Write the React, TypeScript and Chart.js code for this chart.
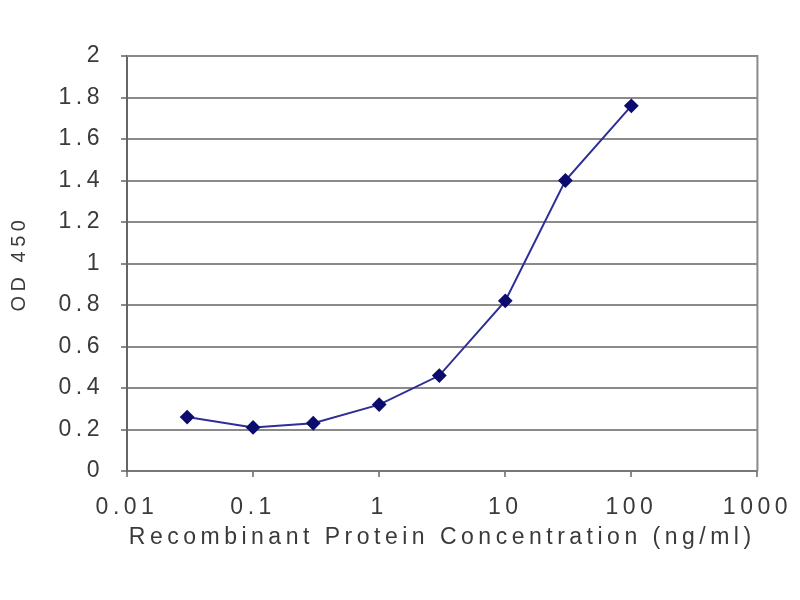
import React, { useEffect, useRef } from "react";
import { Chart, registerables } from "chart.js";

Chart.register(...registerables);

const concentrations = [0.03, 0.1, 0.3, 1, 3, 10, 30, 100];
const od450 = [0.26, 0.21, 0.23, 0.32, 0.46, 0.82, 1.4, 1.76];
const xTickValues = [0.01, 0.1, 1, 10, 100, 1000];
const xTickLabels = ["0.01", "0.1", "1", "10", "100", "1000"];
const yTickValues = [0, 0.2, 0.4, 0.6, 0.8, 1, 1.2, 1.4, 1.6, 1.8, 2];
const yTickLabels = ["0", "0.2", "0.4", "0.6", "0.8", "1", "1.2", "1.4", "1.6", "1.8", "2"];
const xTitle = "Recombinant Protein Concentration (ng/ml)";
const yTitle = "OD 450";

const spacingPlugin = {
  id: "spacing",
  beforeDraw(chart: any) {
    chart.ctx.letterSpacing = "4.5px";
  },
};

const framePlugin = {
  id: "frame",
  beforeDatasetsDraw(chart: any) {
    const { ctx, chartArea } = chart;
    ctx.save();
    ctx.strokeStyle = "#8a8a8a";
    ctx.lineWidth = 2;
    ctx.beginPath();
    ctx.moveTo(chartArea.left, chartArea.top);
    ctx.lineTo(chartArea.right, chartArea.top);
    ctx.lineTo(chartArea.right, chartArea.bottom);
    ctx.stroke();
    ctx.restore();
  },
};

export default function App() {
  const ref = useRef<HTMLCanvasElement>(null);
  useEffect(() => {
    if (!ref.current) return;
    const chart = new Chart(ref.current, {
      type: "line",
      data: {
        datasets: [
          {
            data: concentrations.map((c, i) => ({ x: c, y: od450[i] })),
            borderColor: "#2e2e96",
            borderWidth: 2,
            backgroundColor: "#0c0c6e",
            pointBackgroundColor: "#0c0c6e",
            pointBorderColor: "#0c0c6e",
            pointStyle: "rectRot",
            pointRadius: 6,
            tension: 0,
          },
        ],
      },
      options: {
        animation: false,
        responsive: false,
        maintainAspectRatio: false,
        layout: { padding: { top: 56, right: 40, left: 0, bottom: 0 } },
        plugins: { legend: { display: false }, tooltip: { enabled: false } },
        scales: {
          x: {
            type: "logarithmic",
            min: 0.01,
            max: 1000,
            afterBuildTicks: (scale: any) => {
              scale.ticks = xTickValues.map((v) => ({ value: v }));
            },
            afterFit: (scale: any) => {
              scale.height = 129;
            },
            ticks: {
              autoSkip: false,
              maxRotation: 0,
              padding: 17,
              color: "#3a3a3a",
              font: { family: "'Liberation Sans', Arial, sans-serif", size: 23 },
              callback: (_v: any, i: number) => xTickLabels[i],
            },
            grid: { drawOnChartArea: false, tickLength: 6, color: "#8a8a8a", lineWidth: 2 },
            border: { color: "#777777", width: 2 },
            title: {
              display: true,
              text: xTitle,
              color: "#3a3a3a",
              font: { family: "'Liberation Sans', Arial, sans-serif", size: 23 },
              padding: { top: 0, bottom: 49 },
            },
          },
          y: {
            min: 0,
            max: 2,
            afterBuildTicks: (scale: any) => {
              scale.ticks = yTickValues.map((v) => ({ value: v }));
            },
            afterFit: (scale: any) => {
              scale.width = 127;
            },
            ticks: {
              padding: 17,
              color: "#3a3a3a",
              font: { family: "'Liberation Sans', Arial, sans-serif", size: 23 },
              callback: (_v: any, i: number) => yTickLabels[i],
            },
            grid: { color: "#8a8a8a", lineWidth: 2, tickLength: 6 },
            border: { color: "#666666", width: 2 },
            title: {
              display: true,
              text: yTitle,
              color: "#3a3a3a",
              font: { family: "'Liberation Sans', Arial, sans-serif", size: 20 },
              padding: { top: 7, bottom: 0 },
            },
          },
        },
      } as any,
      plugins: [spacingPlugin, framePlugin],
    });
    return () => chart.destroy();
  }, []);
  return (
    <div style={{ position: "absolute", left: 0, top: 0, width: 800, height: 600, background: "#fff" }}>
      <canvas ref={ref} width={800} height={600} style={{ width: 800, height: 600, display: "block" }} />
    </div>
  );
}
